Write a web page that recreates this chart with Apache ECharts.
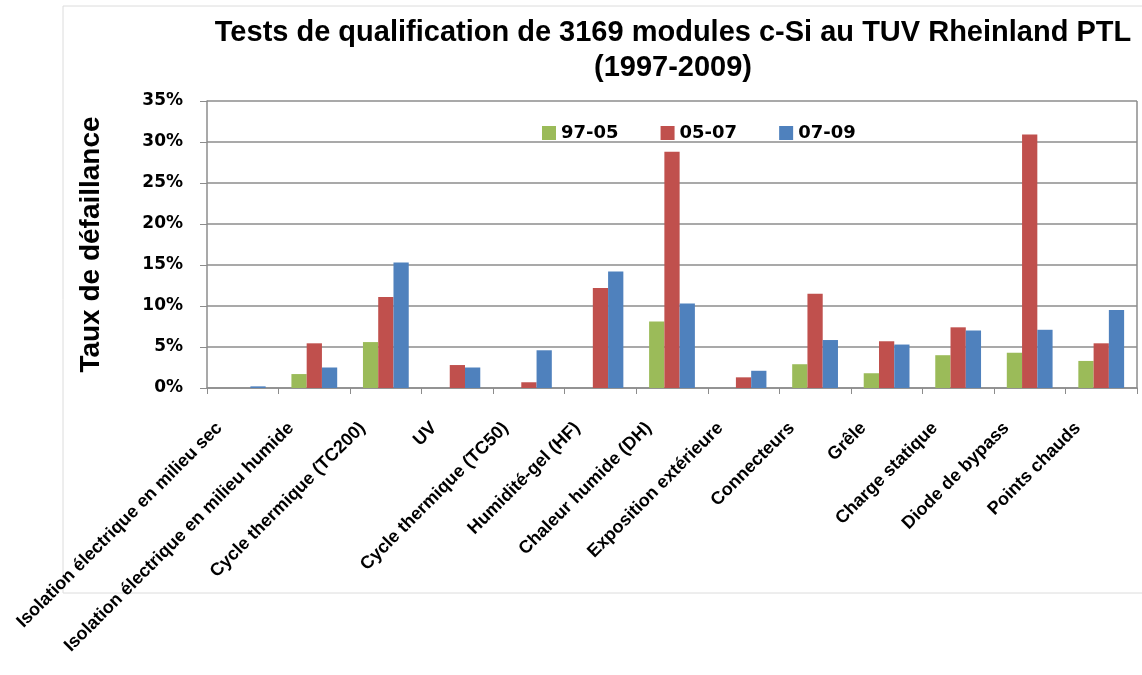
<!DOCTYPE html>
<html>
<head>
<meta charset="utf-8">
<script src="https://cdn.jsdelivr.net/npm/echarts@6/dist/echarts.min.js"></script>
<style>
html,body{margin:0;padding:0;background:#fff;}
#chart{width:1142px;height:675px;}
</style>
</head>
<body>
<div id="chart"></div>
<script>
// categories des tests
var categories = [
    "Isolation électrique en milieu sec",
    "Isolation électrique en milieu humide",
    "Cycle thermique (TC200)",
    "UV",
    "Cycle thermique (TC50)",
    "Humidité-gel (HF)",
    "Chaleur humide (DH)",
    "Exposition extérieure",
    "Connecteurs",
    "Grêle",
    "Charge statique",
    "Diode de bypass",
    "Points chauds"
];
var seriesNames = ["97-05", "05-07", "07-09"];
// taux de défaillance en %
var v9705 = [0, 1.7, 5.6, 0, 0, 0, 8.1, 0, 2.9, 1.8, 4.0, 4.3, 3.3];
var v0507 = [0, 5.45, 11.1, 2.8, 0.7, 12.2, 28.8, 1.3, 11.5, 5.7, 7.4, 30.9, 5.45];
var v0709 = [0.2, 2.5, 15.3, 2.5, 4.6, 14.2, 10.3, 2.1, 5.85, 5.3, 7.0, 7.1, 9.5];
var colors = ["#9BBB59", "#C0504D", "#4F81BD"];

window.onload = function(){
var chart = echarts.init(document.getElementById('chart'));
var values = [v9705, v0507, v0709];
var series = [];
for(var i=0; i<seriesNames.length; i++){
    series.push({
        name: seriesNames[i],
        type: 'bar',
        data: values[i],
        barGap: 0,
        barCategoryGap: '36%',
        itemStyle: {color: colors[i]}
    });
}
var option = {
    animation: false,
    color: colors,
    graphic: [{
        type: 'rect',
        shape: {x: 63, y: 6, width: 1100, height: 587},
        style: {fill: 'none', stroke: '#dcdcdc', lineWidth: 1},
        z: -10
    }],
    title: {
        text: 'Tests de qualification de 3169 modules c-Si au TUV Rheinland PTL\n(1997-2009)',
        left: 668,
        top: 10,
        textAlign: 'center',
        textStyle: {
            fontFamily: 'Liberation Sans',
            fontWeight: 'bold',
            fontSize: 29,
            lineHeight: 35,
            color: '#000'
        }
    },
    legend: {
        data: seriesNames,
        left: 542,
        top: 124,
        padding: 0,
        itemWidth: 14,
        itemHeight: 14,
        itemGap: 42,
        icon: 'rect',
        textStyle: {
            fontFamily: 'DejaVu Sans',
            fontWeight: 'bold',
            fontSize: 18,
            color: '#000'
        }
    },
    grid: {left: 207, right: 5, top: 101, bottom: 287},
    xAxis: {
        type: 'category',
        data: categories,
        axisLine: {lineStyle: {color: '#8c8c8c', width: 1.5}},
        axisTick: {show: true, length: 6, lineStyle: {color: '#8c8c8c'}},
        axisLabel: {
            rotate: 45,
            interval: 0,
            margin: 14,
            padding: [0, 33, 0, 0],
            fontFamily: 'Liberation Sans',
            fontWeight: 'bold',
            fontSize: 18,
            color: '#000'
        }
    },
    yAxis: {
        type: 'value',
        min: 0,
        max: 35,
        interval: 5,
        name: 'Taux de défaillance',
        nameLocation: 'middle',
        nameGap: 102,
        nameTextStyle: {
            fontFamily: 'Liberation Sans',
            fontWeight: 'bold',
            fontSize: 28,
            color: '#000'
        },
        axisLine: {show: true, lineStyle: {color: '#8c8c8c', width: 1.5}},
        axisTick: {show: true, length: 7, lineStyle: {color: '#8c8c8c'}},
        splitLine: {lineStyle: {color: '#8c8c8c', width: 1.5}},
        axisLabel: {
            formatter: '{value}%',
            margin: 24,
            fontFamily: 'DejaVu Sans',
            fontWeight: 'bold',
            fontSize: 17,
            color: '#000'
        }
    },
    series: series
};
// bordure droite du tracé
option.graphic.push({
    type: 'line',
    shape: {x1: 1137, y1: 101, x2: 1137, y2: 388},
    style: {stroke: '#8c8c8c', lineWidth: 1.5}
});
chart.setOption(option);
}
</script>
</body>
</html>
